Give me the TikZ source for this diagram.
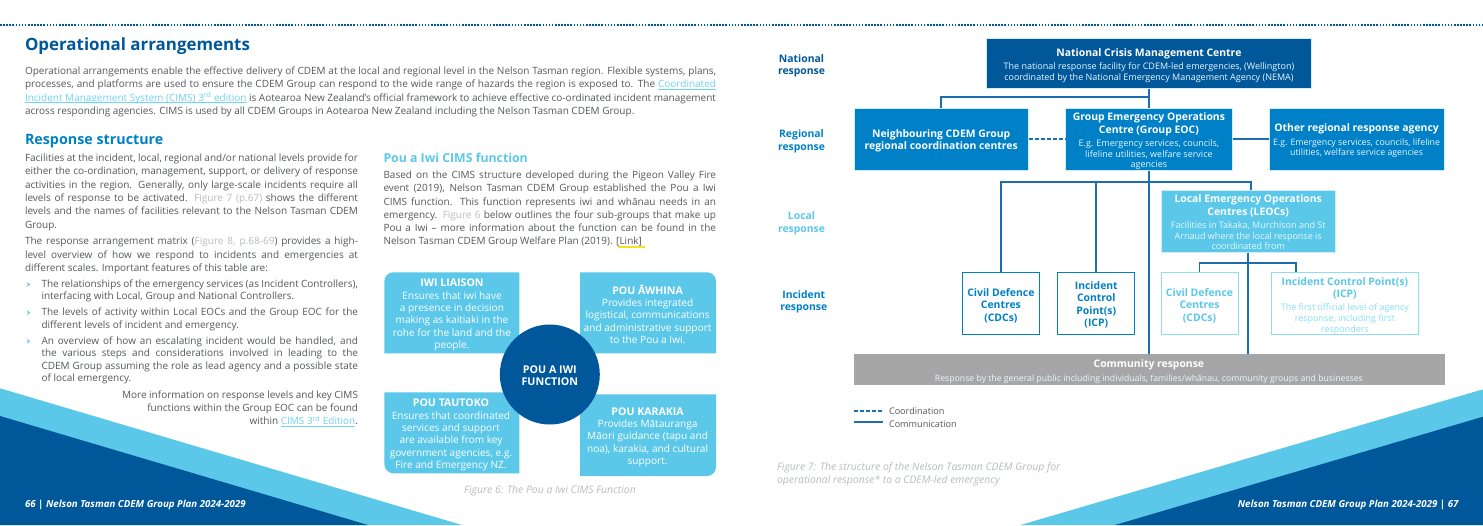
\documentclass[tikz,border=0pt]{standalone}
\usepackage{fontspec}
\setmainfont{Open Sans}
\definecolor{dkb}{HTML}{00589B}
\definecolor{mdb}{HTML}{0080C6}
\definecolor{ltb}{HTML}{5BC8E9}
\definecolor{pale}{HTML}{8ADFF7}
\definecolor{gry}{HTML}{A6A6A6}
\definecolor{txt}{HTML}{55585A}
\definecolor{cap}{HTML}{B9BCBE}
\definecolor{conn}{HTML}{1B6EAF}
\definecolor{lnk}{HTML}{6FD3F2}
\definecolor{ylw}{HTML}{F5E11E}
\newcounter{tl}
\newcommand{\bd}{\fontsize{10}{13.2}\selectfont}
\newcommand{\hdf}{\fontsize{10.4}{12.4}\selectfont\bfseries}
\newcommand{\hdw}{\hdf\color{white}}
\newcommand{\smf}{\fontsize{9}{10.7}\selectfont\mdseries}
\newcommand{\figref}[1]{\textcolor{cap}{#1}}
\newcommand{\dn}[1]{\rule{0pt}{\dimexpr 8pt+2\dimexpr #1pt\relax\relax}}
\newsavebox{\lnkbox}
\newcommand{\lnktx}[1]{\sbox{\lnkbox}{\textcolor{lnk}{#1}}{\color{lnk}\rlap{\rule[-1.6pt]{\wd\lnkbox}{0.5pt}}}\usebox{\lnkbox}}
\newcommand{\lineJ}[4]{\stepcounter{tl}\node[tline,anchor=base west] (t\thetl) at (#1,#2+3.2) {\makebox[#3pt][s]{#4}};}
\newcommand{\lineL}[3]{\stepcounter{tl}\node[tline,anchor=base west] (t\thetl) at (#1,#2+3.2) {#3};}
\newcommand{\lineR}[3]{\stepcounter{tl}\node[tline,anchor=base east] (t\thetl) at (#1,#2+3.2) {#3};}
\newcommand{\bul}[2]{\fill[ltb] (#1-1.6,#2-2.2) -- (#1+1.8,#2) -- (#1-1.6,#2+2.2) -- (#1-0.6,#2) -- cycle;}
\newcommand{\poub}[1]{{\fontsize{10.6}{12.35}\selectfont\bfseries #1}}
\tikzset{
  tline/.style={inner sep=0pt,outer sep=0pt,font=\bd,text=txt},
  box/.style={draw=white!70!ltb,line width=0.5pt,inner sep=0pt,align=center,text=white!86!ltb,font=\smf},
  outl/.style={draw=#1,fill=white,line width=1pt,inner sep=0pt,align=center,font=\hdf},
  link/.style={draw=conn,line width=1.7pt},
  pou/.style={fill=ltb},
  poutx/.style={inner sep=0pt,align=center,text=white,font=\fontsize{10.1}{12.35}\selectfont},
  lev/.style={inner sep=0pt,align=center,font=\hdf},
  capt/.style={tline,text=cap,font=\fontsize{10.4}{12}\selectfont\itshape},
  foot/.style={tline,text=white,font=\fontsize{9.7}{11}\selectfont\bfseries\itshape},
  lgd/.style={tline,anchor=base west,font=\fontsize{9.1}{11}\selectfont},
}
\begin{document}
\begin{tikzpicture}[x=1pt,y=-1pt]
\useasboundingbox (0,0) rectangle (1483,525);
\fill[white] (0,0) rectangle (1483,525);
% dotted rule
\draw[dkb,line width=1.8pt,dash pattern=on 1.6pt off 1.5pt] (0,25) -- (1483,25);
% corner wedges
\fill[ltb] (0,388.3) -- (462,525) -- (0,525) -- cycle;
\fill[dkb] (0,416) -- (368,525) -- (0,525) -- cycle;
\fill[ltb] (1483,389.3) -- (1020.5,525) -- (1483,525) -- cycle;
\fill[dkb] (1483,416.7) -- (1115,525) -- (1483,525) -- cycle;
% left page headings
\node[tline,anchor=base west,font=\fontsize{16.9}{20}\selectfont\bfseries,text=dkb] (title) at (25,50) {Operational arrangements};
\node[tline,anchor=base west,font=\fontsize{14.3}{17}\selectfont\bfseries,text=mdb] (resp) at (25,144.3) {Response structure};
\node[tline,anchor=base west,font=\fontsize{12.3}{15}\selectfont\bfseries,text=ltb] (pouh) at (383.5,162.3) {Pou a Iwi CIMS function};
% intro paragraph
\lineJ{25}{71.7}{691}{Operational arrangements enable the effective delivery of CDEM at the local and regional level in the Nelson Tasman region. Flexible systems, plans,}
\lineJ{25}{84.7}{691}{processes, and platforms are used to ensure the CDEM Group can respond to the wide range of hazards the region is exposed to. The \lnktx{Coordinated}}
\lineJ{25}{98}{691}{\lnktx{Incident Management System (CIMS) 3\textsuperscript{rd} edition} is Aotearoa New Zealand’s official framework to achieve effective co-ordinated incident management}
\lineL{25}{111.7}{across responding agencies. CIMS is used by all CDEM Groups in Aotearoa New Zealand including the Nelson Tasman CDEM Group.}
% left column
\lineJ{25}{158.3}{333}{Facilities at the incident, local, regional and/or national levels provide for}
\lineJ{25}{171.7}{333}{either the co-ordination, management, support, or delivery of response}
\lineJ{25}{185}{333}{activities in the region. Generally, only large-scale incidents require all}
\lineJ{25}{198.3}{333}{levels of response to be activated. \figref{Figure 7 (p.67)} shows the different}
\lineJ{25}{211.7}{333}{levels and the names of facilities relevant to the Nelson Tasman CDEM}
\lineL{25}{225}{Group.}
\lineJ{25}{241.7}{333}{The response arrangement matrix (\figref{Figure 8, p.68-69}) provides a high-}
\lineJ{25}{255}{333}{level overview of how we respond to incidents and emergencies at}
\lineL{25}{268.3}{different scales. Important features of this table are:}
\bul{28.5}{284.5}\bul{28.5}{312.7}\bul{28.5}{341.3}
\lineJ{41.5}{284.3}{316.5}{The relationships of the emergency services (as Incident Controllers),}
\lineL{41.5}{296.7}{interfacing with Local, Group and National Controllers.}
\lineJ{41.5}{312.7}{316.5}{The levels of activity within Local EOCs and the Group EOC for the}
\lineL{41.5}{325}{different levels of incident and emergency.}
\lineJ{41.5}{341.3}{316.5}{An overview of how an escalating incident would be handled, and}
\lineJ{41.5}{353.7}{316.5}{the various steps and considerations involved in leading to the}
\lineJ{41.5}{366}{316.5}{CDEM Group assuming the role as lead agency and a possible state}
\lineL{41.5}{378.3}{of local emergency.}
\lineR{358}{395}{More information on response levels and key CIMS}
\lineR{358}{408.3}{functions within the Group EOC can be found}
\lineR{358}{421.7}{within \lnktx{CIMS 3\textsuperscript{rd} Edition}.}
% right column
\lineJ{383.5}{175.3}{332.5}{Based on the CIMS structure developed during the Pigeon Valley Fire}
\lineJ{383.5}{188.7}{332.5}{event (2019), Nelson Tasman CDEM Group established the Pou a Iwi}
\lineJ{383.5}{202}{332.5}{CIMS function. This function represents iwi and whānau needs in an}
\lineJ{383.5}{215}{332.5}{emergency. \figref{Figure 6} below outlines the four sub-groups that make up}
\lineJ{383.5}{228.3}{332.5}{Pou a Iwi – more information about the function can be found in the}
\lineL{383.5}{241.7}{Nelson Tasman CDEM Group Welfare Plan (2019). [Link]}
\fill[ylw] (618.4,246.2) rectangle (645.3,248);
% Pou a Iwi quadrants
\fill[pou] (384.4,353.3) [rounded corners=9pt] -- (384.4,272.3) [sharp corners] -- (519.3,272.3) -- (519.3,353.3) -- cycle;
\fill[pou] (580.2,353.3) -- (580.2,272.3) [rounded corners=9pt] -- (716,272.3) [sharp corners] -- (716,353.3) -- cycle;
\fill[pou] (384.4,392.3) -- (519.3,392.3) -- (519.3,473.3) [rounded corners=9pt] -- (384.4,473.3) [sharp corners] -- cycle;
\fill[pou] (580.2,394.3) -- (716,394.3) [rounded corners=9pt] -- (716,476) [sharp corners] -- (580.2,476) -- cycle;
\node[poutx] (iwi) at (452,315) {\poub{IWI LIAISON}\\Ensures that iwi have\\a presence in decision\\making as kaitiaki in the\\rohe for the land and the\\people.};
\node[poutx] (awh) at (647.6,314.3) {\poub{POU ĀWHINA}\\Provides integrated\\logistical, communications\\and administrative support\\to the Pou a Iwi.};
\node[poutx] (tau) at (451,435) {\poub{POU TAUTOKO}\\Ensures that coordinated\\services and support\\are available from key\\government agencies, e.g.\\Fire and Emergency NZ.};
\node[poutx] (kar) at (647.6,437.2) {\poub{POU KARAKIA}\\Provides Mātauranga\\Māori guidance (tapu and\\noa), karakia, and cultural\\support.};
\node[circle,fill=dkb,minimum size=100pt,inner sep=0pt,align=center,text=white,font=\fontsize{10.7}{12.2}\selectfont\bfseries] (fn) at (549.8,374.5) {\dn{1}POU A IWI\\FUNCTION};
\node[capt,anchor=base] (cap6) at (550,493.3) {Figure 6: The Pou a Iwi CIMS Function};
% footers
\node[foot,anchor=base west] (fl) at (25,507) {66 | Nelson Tasman CDEM Group Plan 2024-2029};
\node[foot,anchor=base east] (fr) at (1458.5,507) {Nelson Tasman CDEM Group Plan 2024-2029 | 67};
% level labels
\node[lev,text=dkb] (lnat) at (801.5,65.7) {National\\response};
\node[lev,text=mdb] (lreg) at (801.5,141.2) {Regional\\response};
\node[lev,text=ltb] (lloc) at (801.5,223.3) {Local\\response};
\node[lev,text=mdb] (linc) at (803.8,302) {Incident\\response};
% boxes
\node[box,fill=dkb,minimum width=325pt,minimum height=50pt] (nat) at (1148.9,63.3) {\dn{2.2}{\hdw National Crisis Management Centre}\\[3pt]The national response facility for CDEM-led emergencies, (Wellington)\\coordinated by the National Emergency Management Agency (NEMA)};
\node[box,fill=mdb,minimum width=174.3pt,minimum height=62pt] (nei) at (941.2,139.3) {\dn{1.2}{\hdw Neighbouring CDEM Group}\\[1.8pt]{\hdw regional coordination centres}};
\node[box,fill=mdb,minimum width=167.4pt,minimum height=62pt] (eoc) at (1148.9,139.3) {\dn{2}{\hdw Group Emergency Operations}\\[1.8pt]{\hdw Centre (Group EOC)}\\[2.6pt]E.g. Emergency services, councils,\\lifeline utilities, welfare service\\agencies};
\node[box,fill=mdb,minimum width=174.3pt,minimum height=62pt] (oth) at (1356.6,139.3) {\dn{1.5}{\hdw Other regional response agency}\\[2.6pt]{\fontsize{8.8}{10.7}\selectfont E.g. Emergency services, councils, lifeline}\\{\fontsize{8.8}{10.7}\selectfont utilities, welfare service agencies}};
\node[box,fill=ltb,minimum width=174.4pt,minimum height=62.3pt] (leoc) at (1248.2,221.2) {\dn{1.2}{\hdw Local Emergency Operations}\\[1.8pt]{\hdw Centres (LEOCs)}\\[2.6pt]Facilities in Takaka, Murchison and St\\Arnaud where the local response is\\coordinated from};
\node[outl=mdb,text=mdb,minimum width=77pt,minimum height=62pt] (cdca) at (1000.9,303.3) {\dn{2.2}Civil Defence\\Centres\\(CDCs)};
\node[outl=mdb,text=mdb,minimum width=77pt,minimum height=62pt] (icpa) at (1096.3,303.3) {\dn{1.5}Incident\\Control\\Point(s)\\(ICP)};
\node[outl=pale,text=ltb,minimum width=77pt,minimum height=62pt] (cdcb) at (1199.5,303.3) {\dn{2.2}Civil Defence\\Centres\\(CDCs)};
\node[outl=pale,text=ltb,minimum width=146.2pt,minimum height=62pt] (icpb) at (1344.9,303.3) {\dn{2.5}Incident Control Point(s)\\(ICP)\\[1pt]{\smf\color{pale}The first official level of agency}\\[-1.7pt]{\smf\color{pale}response, including first}\\[-1.7pt]{\smf\color{pale}responders}};
\node[box,fill=gry,draw=gry,minimum width=589.8pt,minimum height=30pt] (comm) at (1148.9,369.3) {\dn{2.3}{\hdw Community response}\\[2.6pt]{\fontsize{8.7}{10.7}\selectfont Response by the general public including individuals, families/whānau, community groups and businesses}};
% connectors
\coordinate (busn) at (1148.9,97.3);
\coordinate (buse) at (1148.9,181.7);
\coordinate (busr) at (1251,181.7);
\coordinate (leoct) at (1251,190);
\coordinate (busl) at (1248.2,262.7);
\coordinate (icpt) at (1295.7,272.3);
\draw[link] (nat.south) -- (eoc.north);
\draw[link] (nei.north) |- (busn);
\draw[link,dash pattern=on 4pt off 2pt] (nei.east) -- (eoc.west);
\draw[link] (eoc.east) -- (oth.west);
\draw[link] (eoc.south) -- (comm.north);
\draw[link] (cdca.north) |- (busr) -- (leoct);
\draw[link] (icpa.north) |- (buse);
\draw[link] (leoc.south) -- (leoc.south |- comm.north);
\draw[link] (cdcb.north) |- (busl);
\draw[link] (icpt) |- (busl);
% legend
\coordinate (la) at (854,411);\coordinate (lb) at (883,411);
\coordinate (lc) at (854,422.3);\coordinate (ld) at (883,422.3);
\draw[link,dash pattern=on 4pt off 2pt] (la) -- (lb);
\draw[link] (lc) -- (ld);
\node[lgd] (lg1) at (889,414.5) {Coordination};
\node[lgd] (lg2) at (889,427) {Communication};
% caption
\node[capt,anchor=base west] (c7a) at (777,470.8) {Figure 7: The structure of the Nelson Tasman CDEM Group for};
\node[capt,anchor=base west] (c7b) at (777,483.5) {operational response* to a CDEM-led emergency};
\end{tikzpicture}
\end{document}
